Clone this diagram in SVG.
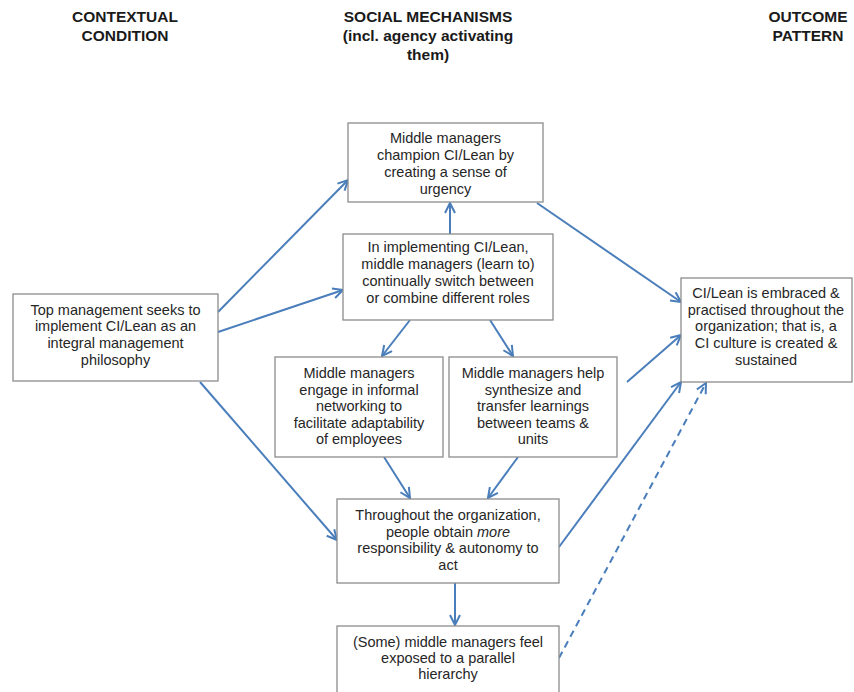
<svg xmlns="http://www.w3.org/2000/svg" width="854" height="692" viewBox="0 0 854 692">
<defs>
<style>
.hd{font-family:"Liberation Sans",Arial,sans-serif;font-weight:bold;font-size:15.5px;fill:#1a1a1a;text-anchor:middle}
.bx{fill:#fff;stroke:#8c8c8c;stroke-width:1.3}
.t{font-family:"Liberation Sans",Arial,sans-serif;font-size:14.5px;fill:#262626;text-anchor:middle}
.c{fill:none;stroke:#4a7ebb;stroke-width:2;marker-end:url(#a)}
.d{stroke-dasharray:7,5}
</style>
<marker id="a" viewBox="0 0 12 12" refX="11" refY="6" markerWidth="12" markerHeight="12" markerUnits="userSpaceOnUse" orient="auto">
<path d="M1,1 L11,6 L1,11" fill="none" stroke="#4a7ebb" stroke-width="2"/>
</marker>
</defs>
<rect width="854" height="692" fill="#fff"/>
<g id="headers">
<text class="hd" x="125" y="22">CONTEXTUAL</text>
<text class="hd" x="125" y="41">CONDITION</text>
<text class="hd" x="428" y="22">SOCIAL MECHANISMS</text>
<text class="hd" x="428" y="41">(incl. agency activating</text>
<text class="hd" x="428" y="60">them)</text>
<text class="hd" x="808" y="22">OUTCOME</text>
<text class="hd" x="808" y="41">PATTERN</text>
</g>
<g id="connectors">
<path class="c" d="M218,312 L348,180"/>
<path class="c" d="M218,332 L343,290"/>
<path class="c" d="M200,382 L337,540"/>
<path class="c" d="M450,234 L450,203"/>
<path class="c" d="M410,320 L382,356"/>
<path class="c" d="M490,320 L513,356"/>
<path class="c" d="M384,457 L410,498"/>
<path class="c" d="M518,457 L488,498"/>
<path class="c" d="M455,583 L455,625"/>
<path class="c" d="M537,203 L681,302"/>
<path class="c" d="M627,382 L681,335"/>
<path class="c" d="M559,547 L681,382"/>
<path class="c d" d="M559,658 L706,383"/>
</g>
<g id="top-management">
<rect class="bx" x="13" y="294" width="205" height="87"/>
<text class="t" x="115.5" y="315">Top management seeks to</text>
<text class="t" x="115.5" y="331">implement CI/Lean as an</text>
<text class="t" x="115.5" y="348">integral management</text>
<text class="t" x="115.5" y="365">philosophy</text>
</g>
<g id="urgency">
<rect class="bx" x="348" y="123" width="195" height="79"/>
<text class="t" x="445.5" y="143">Middle managers</text>
<text class="t" x="445.5" y="160">champion CI/Lean by</text>
<text class="t" x="445.5" y="177">creating a sense of</text>
<text class="t" x="445.5" y="194">urgency</text>
</g>
<g id="roles">
<rect class="bx" x="343" y="234" width="210" height="86"/>
<text class="t" x="448" y="252">In implementing CI/Lean,</text>
<text class="t" x="448" y="269">middle managers (learn to)</text>
<text class="t" x="448" y="286">continually switch between</text>
<text class="t" x="448" y="303">or combine different roles</text>
</g>
<g id="networking">
<rect class="bx" x="275" y="357" width="168" height="100"/>
<text class="t" x="359" y="378">Middle managers</text>
<text class="t" x="359" y="395">engage in informal</text>
<text class="t" x="359" y="411">networking to</text>
<text class="t" x="359" y="428">facilitate adaptability</text>
<text class="t" x="359" y="444">of employees</text>
</g>
<g id="synthesize">
<rect class="bx" x="449" y="357" width="168" height="100"/>
<text class="t" x="533" y="378">Middle managers help</text>
<text class="t" x="533" y="395">synthesize and</text>
<text class="t" x="533" y="411">transfer learnings</text>
<text class="t" x="533" y="428">between teams &amp;</text>
<text class="t" x="533" y="444">units</text>
</g>
<g id="responsibility">
<rect class="bx" x="337" y="499" width="222" height="84"/>
<text class="t" x="448" y="520">Throughout the organization,</text>
<text class="t" x="448" y="537">people obtain <tspan font-style="italic">more</tspan></text>
<text class="t" x="448" y="553">responsibility &amp; autonomy to</text>
<text class="t" x="448" y="570">act</text>
</g>
<g id="hierarchy">
<rect class="bx" x="337" y="626" width="222" height="70"/>
<text class="t" x="448" y="647">(Some) middle managers feel</text>
<text class="t" x="448" y="663">exposed to a parallel</text>
<text class="t" x="448" y="679">hierarchy</text>
</g>
<g id="outcome">
<rect class="bx" x="681" y="278" width="171" height="104"/>
<text class="t" x="766" y="298">CI/Lean is embraced &amp;</text>
<text class="t" x="766" y="315">practised throughout the</text>
<text class="t" x="766" y="331">organization; that is, a</text>
<text class="t" x="766" y="348">CI culture is created &amp;</text>
<text class="t" x="766" y="365">sustained</text>
</g>
</svg>
